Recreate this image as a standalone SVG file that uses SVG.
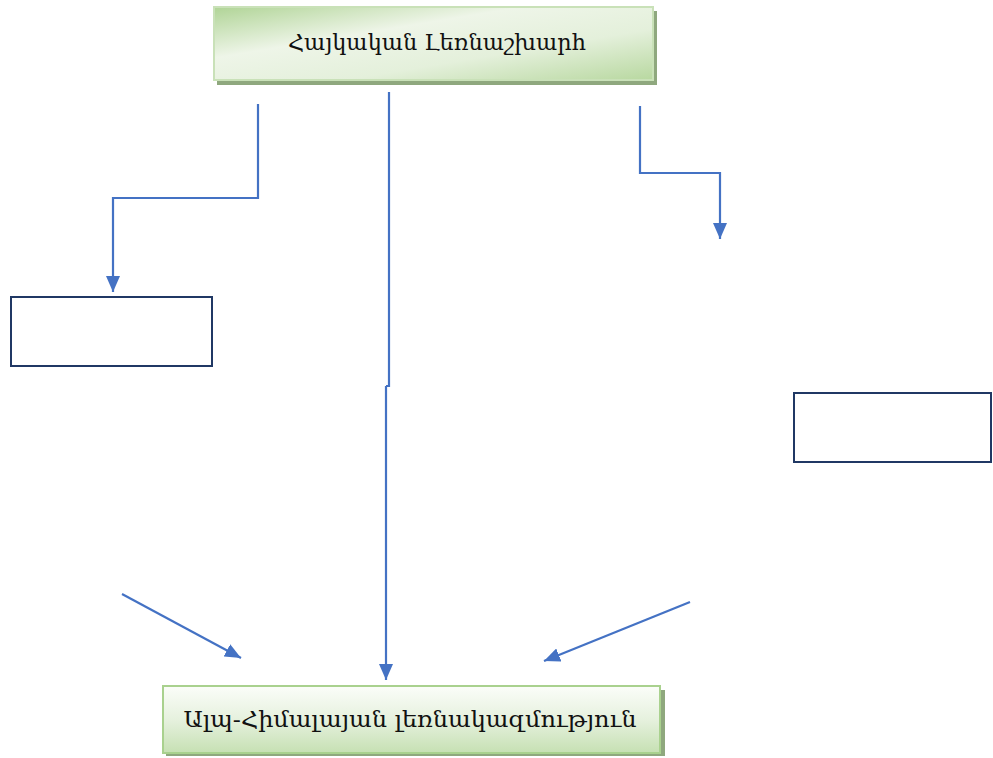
<svg xmlns="http://www.w3.org/2000/svg" width="993" height="758" viewBox="0 0 993 758">
<defs>
<linearGradient id="gTop" x1="0" y1="0" x2="1" y2="1">
<stop offset="0" stop-color="#b0d496"/>
<stop offset="0.35" stop-color="#eef5e8"/>
<stop offset="0.65" stop-color="#e4f0db"/>
<stop offset="1" stop-color="#b8d8a0"/>
</linearGradient>
<linearGradient id="gBot" x1="0" y1="0" x2="0" y2="1">
<stop offset="0" stop-color="#fbfdf9"/>
<stop offset="0.5" stop-color="#e6f1de"/>
<stop offset="1" stop-color="#c6e0b3"/>
</linearGradient>
<marker id="ahBig" markerWidth="16" markerHeight="14" refX="16" refY="7" orient="auto" markerUnits="userSpaceOnUse">
<path d="M0,0 L16,7 L0,14 z" fill="#4472c4"/>
</marker>
</defs>
<style>
.conn{fill:none;stroke:#4472c4;stroke-width:2.2;marker-end:url(#ahBig)}
.plain{fill:none;stroke:#4472c4;stroke-width:2.2}
.empty{fill:#ffffff;stroke:#203864;stroke-width:2}
.lbl{font-family:"DejaVu Serif","Liberation Serif",serif;font-size:22px;fill:#111111;text-anchor:middle}
.shadow{fill:#8fa87e}
</style>
<rect width="993" height="758" fill="#ffffff"/>
<g id="node-top">
<rect class="shadow" x="217" y="11" width="440" height="74"/>
<rect x="214" y="7" width="439" height="73" fill="url(#gTop)" stroke="#c9e1b8" stroke-width="2"/>
<text class="lbl" x="437" y="50" textLength="298" lengthAdjust="spacingAndGlyphs">Հայկական Լեռնաշխարհ</text>
</g>
<g id="node-bottom">
<rect class="shadow" x="166" y="690" width="499" height="66"/>
<rect x="163" y="686" width="497" height="67" fill="url(#gBot)" stroke="#a9d18e" stroke-width="2"/>
<text class="lbl" x="410" y="727" textLength="453" lengthAdjust="spacingAndGlyphs">Ալպ-Հիմալայան լեռնակազմություն</text>
</g>
<g id="node-left">
<rect class="empty" x="11" y="297" width="201" height="69"/>
</g>
<g id="node-right">
<rect class="empty" x="794" y="393" width="197" height="69"/>
</g>
<g id="connectors">
<path class="conn" d="M258,104 V198 H113 V292"/>
<path class="plain" d="M389,92 V386 H386"/>
<path class="conn" d="M386,386 V680"/>
<path class="conn" d="M640,106 V173 H720 V239"/>
<path class="conn" d="M122,594 L241,658"/>
<path class="conn" d="M690,602 L544,661"/>
</g>
</svg>
